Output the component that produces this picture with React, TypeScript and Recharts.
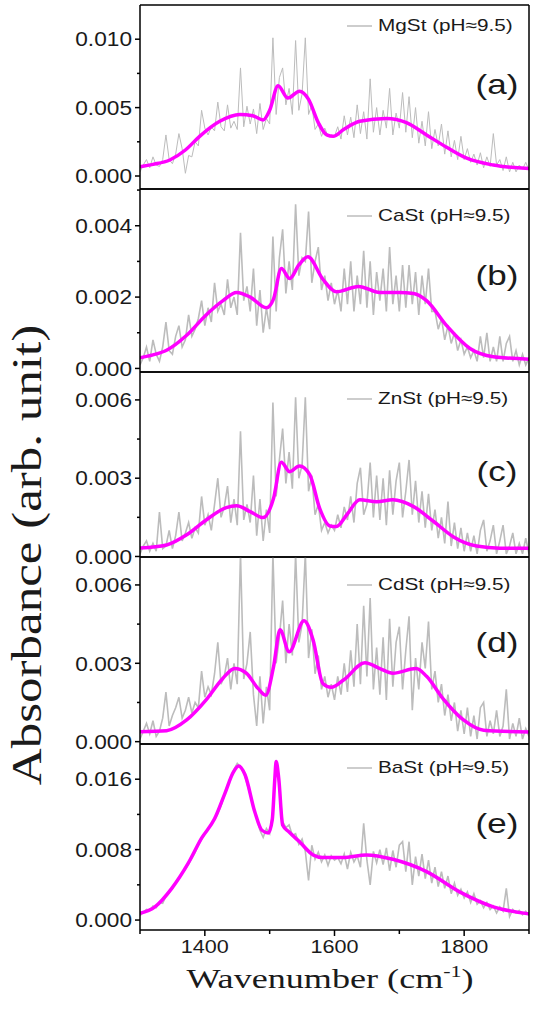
import React from 'react';
import { LineChart, Line, XAxis, YAxis, Legend } from 'recharts';

// wavenumber grid of the measured spectra (cm-1)
const wavenumbers = [
  1300, 1305, 1310, 1315, 1320, 1325, 1330, 1335, 1340, 1345,
  1350, 1355, 1360, 1365, 1370, 1375, 1380, 1385, 1390, 1395,
  1400, 1405, 1410, 1415, 1420, 1425, 1430, 1435, 1440, 1445,
  1450, 1455, 1460, 1465, 1470, 1475, 1480, 1485, 1490, 1495,
  1500, 1505, 1510, 1515, 1520, 1525, 1530, 1535, 1540, 1545,
  1550, 1555, 1560, 1565, 1570, 1575, 1580, 1585, 1590, 1595,
  1600, 1605, 1610, 1615, 1620, 1625, 1630, 1635, 1640, 1645,
  1650, 1655, 1660, 1665, 1670, 1675, 1680, 1685, 1690, 1695,
  1700, 1705, 1710, 1715, 1720, 1725, 1730, 1735, 1740, 1745,
  1750, 1755, 1760, 1765, 1770, 1775, 1780, 1785, 1790, 1795,
  1800, 1805, 1810, 1815, 1820, 1825, 1830, 1835, 1840, 1845,
  1850, 1855, 1860, 1865, 1870, 1875, 1880, 1885, 1890, 1895,
  1900,
];

const mgStRaw = [
  0.0003, 0.0008, 0.0012, 0.0006, 0.0014, 0.0008, 0.0007, 0.0012, 0.0030, 0.0012,
  0.0009, 0.0016, 0.0031, 0.0020, 0.0002, 0.0015, 0.0014, 0.0025, 0.0022, 0.0048,
  0.0035, 0.0030, 0.0036, 0.0033, 0.0054, 0.0036, 0.0033, 0.0052, 0.0035, 0.0040,
  0.0034, 0.0079, 0.0036, 0.0051, 0.0038, 0.0049, 0.0031, 0.0053, 0.0034, 0.0042,
  0.0038, 0.0101, 0.0045, 0.0072, 0.0079, 0.0052, 0.0064, 0.0045, 0.0099, 0.0048,
  0.0060, 0.0101, 0.0045, 0.0052, 0.0034, 0.0038, 0.0029, 0.0035, 0.0029, 0.0030,
  0.0029, 0.0036, 0.0027, 0.0044, 0.0030, 0.0043, 0.0028, 0.0052, 0.0031, 0.0047,
  0.0027, 0.0071, 0.0032, 0.0050, 0.0030, 0.0048, 0.0035, 0.0064, 0.0030, 0.0046,
  0.0035, 0.0061, 0.0032, 0.0058, 0.0028, 0.0050, 0.0024, 0.0040, 0.0022, 0.0047,
  0.0020, 0.0034, 0.0022, 0.0038, 0.0016, 0.0033, 0.0014, 0.0026, 0.0012, 0.0029,
  0.0012, 0.0020, 0.0010, 0.0016, 0.0008, 0.0017, 0.0006, 0.0014, 0.0007, 0.0031,
  0.0008, 0.0012, 0.0004, 0.0014, 0.0003, 0.0010, 0.0003, 0.0008, 0.0005, 0.0010,
  0.0004,
];

const caStRaw = [
  0.0001, 0.0003, 0.0006, 0.0002, 0.0008, 0.0004, 0.0002, 0.0006, 0.0013, 0.0005,
  0.0004, 0.0009, 0.0012, 0.0006, 0.0008, 0.0015, 0.0009, 0.0011, 0.0014, 0.0019,
  0.0012, 0.0017, 0.0013, 0.0024, 0.0016, 0.0018, 0.0015, 0.0025, 0.0017, 0.0020,
  0.0015, 0.0038, 0.0019, 0.0023, 0.0016, 0.0028, 0.0012, 0.0022, 0.0010, 0.0017,
  0.0011, 0.0037, 0.0016, 0.0031, 0.0039, 0.0021, 0.0030, 0.0022, 0.0046, 0.0026,
  0.0031, 0.0030, 0.0044, 0.0024, 0.0030, 0.0034, 0.0022, 0.0026, 0.0019, 0.0024,
  0.0018, 0.0022, 0.0016, 0.0028, 0.0018, 0.0030, 0.0016, 0.0026, 0.0018, 0.0033,
  0.0017, 0.0030, 0.0015, 0.0027, 0.0019, 0.0028, 0.0016, 0.0034, 0.0018, 0.0026,
  0.0016, 0.0029, 0.0017, 0.0029, 0.0018, 0.0027, 0.0015, 0.0026, 0.0018, 0.0028,
  0.0016, 0.0016, 0.0011, 0.0014, 0.0008, 0.0012, 0.0007, 0.0010, 0.0005, 0.0008,
  0.0004, 0.0006, 0.0003, 0.0005, 0.0002, 0.0009, 0.0003, 0.0010, 0.0002, 0.0006,
  0.0002, 0.0009, 0.0002, 0.0007, 0.0009, 0.0002, 0.0005, 0.0001, 0.0004, 0.0001,
  0.0003,
];

const znStRaw = [
  0.0001, 0.0004, 0.0006, 0.0002, 0.0005, 0.0002, 0.0017, 0.0003, 0.0004, 0.0010,
  0.0003, 0.0008, 0.0017, 0.0006, 0.0009, 0.0013, 0.0007, 0.0011, 0.0009, 0.0023,
  0.0012, 0.0016, 0.0010, 0.0020, 0.0030, 0.0015, 0.0019, 0.0027, 0.0013, 0.0022,
  0.0012, 0.0048, 0.0014, 0.0020, 0.0013, 0.0031, 0.0008, 0.0022, 0.0006, 0.0018,
  0.0009, 0.0059, 0.0023, 0.0037, 0.0049, 0.0028, 0.0040, 0.0026, 0.0061, 0.0030,
  0.0035, 0.0061, 0.0025, 0.0031, 0.0016, 0.0020, 0.0010, 0.0013, 0.0009, 0.0012,
  0.0010, 0.0016, 0.0011, 0.0019, 0.0014, 0.0023, 0.0013, 0.0028, 0.0034, 0.0016,
  0.0020, 0.0036, 0.0015, 0.0031, 0.0014, 0.0030, 0.0012, 0.0033, 0.0016, 0.0029,
  0.0036, 0.0015, 0.0025, 0.0037, 0.0016, 0.0029, 0.0013, 0.0025, 0.0011, 0.0024,
  0.0010, 0.0018, 0.0007, 0.0015, 0.0005, 0.0021, 0.0004, 0.0013, 0.0003, 0.0011,
  0.0002, 0.0009, 0.0002, 0.0008, 0.0001, 0.0010, 0.0014, 0.0002, 0.0006, 0.0012,
  0.0001, 0.0006, 0.0012, 0.0001, 0.0004, 0.0009, 0.0001, 0.0005, 0.0001, 0.0007,
  0.0001,
];

const cdStRaw = [
  0.0001, 0.0004, 0.0007, 0.0003, 0.0008, 0.0002, 0.0004, 0.0009, 0.0019, 0.0006,
  0.0010, 0.0013, 0.0017, 0.0009, 0.0012, 0.0017, 0.0011, 0.0015, 0.0013, 0.0027,
  0.0017, 0.0021, 0.0018, 0.0026, 0.0038, 0.0022, 0.0025, 0.0032, 0.0020, 0.0030,
  0.0022, 0.0072, 0.0024, 0.0030, 0.0042, 0.0018, 0.0006, 0.0025, 0.0007, 0.0021,
  0.0012, 0.0072, 0.0030, 0.0040, 0.0054, 0.0030, 0.0045, 0.0033, 0.0072, 0.0038,
  0.0045, 0.0072, 0.0032, 0.0043, 0.0026, 0.0033, 0.0020, 0.0025, 0.0017, 0.0022,
  0.0016, 0.0025, 0.0018, 0.0030, 0.0019, 0.0035, 0.0021, 0.0045, 0.0022, 0.0052,
  0.0025, 0.0055, 0.0020, 0.0036, 0.0018, 0.0040, 0.0016, 0.0047, 0.0021, 0.0038,
  0.0044, 0.0020, 0.0035, 0.0048, 0.0012, 0.0032, 0.0020, 0.0038, 0.0028, 0.0046,
  0.0020, 0.0027, 0.0015, 0.0022, 0.0010, 0.0018, 0.0008, 0.0015, 0.0004, 0.0012,
  0.0003, 0.0013, 0.0002, 0.0010, 0.0001, 0.0013, 0.0015, 0.0002, 0.0008, 0.0003,
  0.0012, 0.0002, 0.0006, 0.0020, 0.0001, 0.0007, 0.0002, 0.0009, 0.0001, 0.0005,
  0.0002,
];

const baStRaw = [
  0.0005, 0.0009, 0.0012, 0.0011, 0.0016, 0.0014, 0.0020, 0.0019, 0.0027, 0.0031,
  0.0036, 0.0043, 0.0047, 0.0053, 0.0058, 0.0064, 0.0070, 0.0077, 0.0085, 0.0092,
  0.0098, 0.0103, 0.0110, 0.0114, 0.0121, 0.0130, 0.0141, 0.0152, 0.0163, 0.0171,
  0.0178, 0.0174, 0.0168, 0.0155, 0.0142, 0.0128, 0.0116, 0.0102, 0.0094, 0.0104,
  0.0098, 0.0125, 0.0181, 0.0150, 0.0112, 0.0105, 0.0108, 0.0096, 0.0098, 0.0086,
  0.0092, 0.0078, 0.0045, 0.0085, 0.0069, 0.0077, 0.0066, 0.0074, 0.0062, 0.0073,
  0.0068, 0.0071, 0.0064, 0.0075, 0.0058, 0.0077, 0.0066, 0.0073, 0.0060, 0.0110,
  0.0068, 0.0040, 0.0078, 0.0065, 0.0080, 0.0063, 0.0082, 0.0056, 0.0079, 0.0060,
  0.0085, 0.0089, 0.0055, 0.0089, 0.0040, 0.0072, 0.0050, 0.0075, 0.0047, 0.0068,
  0.0042, 0.0060, 0.0038, 0.0055, 0.0036, 0.0050, 0.0030, 0.0042, 0.0028, 0.0035,
  0.0025, 0.0032, 0.0020, 0.0030, 0.0018, 0.0022, 0.0014, 0.0020, 0.0012, 0.0016,
  0.0008, 0.0015, 0.0010, 0.0036, 0.0004, 0.0012, 0.0008, 0.0011, 0.0006, 0.0010,
  0.0005,
];

// smoothed fits, [wavenumber, absorbance]
const mgStFit = [
  [1300, 0.00068], [1320, 0.00085], [1346, 0.00117], [1370, 0.0019], [1392, 0.0029],
  [1423, 0.004], [1454, 0.0045], [1474, 0.0044], [1490, 0.0041], [1500, 0.0048],
  [1513, 0.0066], [1528, 0.0057], [1546, 0.0062], [1560, 0.0056], [1575, 0.0039],
  [1588, 0.003], [1598, 0.0029], [1614, 0.0034], [1639, 0.004], [1680, 0.0042],
  [1711, 0.0039], [1742, 0.003], [1773, 0.0021], [1804, 0.0013], [1845, 0.0008],
  [1900, 0.00055],
];

const caStFit = [
  [1300, 0.0003], [1320, 0.00038], [1341, 0.00051], [1372, 0.00093], [1402, 0.0015],
  [1428, 0.0019], [1449, 0.00213], [1470, 0.002], [1495, 0.0017], [1506, 0.00195],
  [1518, 0.0028], [1531, 0.00252], [1545, 0.0029], [1559, 0.00313], [1582, 0.0025],
  [1603, 0.00215], [1637, 0.0023], [1670, 0.00213], [1700, 0.00213], [1722, 0.0021],
  [1742, 0.0019], [1773, 0.0012], [1809, 0.00056], [1845, 0.00033], [1900, 0.00026],
];

const znStFit = [
  [1300, 0.00032], [1341, 0.00044], [1372, 0.00083], [1402, 0.0014], [1433, 0.00187],
  [1449, 0.00194], [1470, 0.00172], [1490, 0.00149], [1506, 0.00223], [1518, 0.00361],
  [1531, 0.00325], [1546, 0.00347], [1562, 0.00313], [1577, 0.00185], [1593, 0.00117],
  [1603, 0.00115], [1619, 0.0016], [1639, 0.00217], [1665, 0.0021], [1690, 0.00217],
  [1722, 0.00191], [1753, 0.00134], [1783, 0.00076], [1819, 0.0004], [1855, 0.00032],
  [1900, 0.00032],
];

const cdStFit = [
  [1300, 0.00038], [1341, 0.00042], [1372, 0.00083], [1402, 0.0016], [1428, 0.00243],
  [1446, 0.0028], [1464, 0.00262], [1482, 0.00204], [1494, 0.00178], [1506, 0.00287],
  [1516, 0.00428], [1530, 0.00344], [1553, 0.00463], [1567, 0.00389], [1582, 0.00223],
  [1595, 0.00208], [1614, 0.00236], [1647, 0.00302], [1670, 0.0028], [1690, 0.00262],
  [1726, 0.0028], [1742, 0.0025], [1767, 0.00166], [1799, 0.00083], [1830, 0.00044],
  [1900, 0.00037],
];

const baStFit = [
  [1300, 0.00076], [1323, 0.0015], [1349, 0.0036], [1374, 0.0064], [1395, 0.0093],
  [1415, 0.0115], [1431, 0.0144], [1444, 0.0168], [1452, 0.0175], [1462, 0.0165],
  [1477, 0.0123], [1488, 0.0102], [1498, 0.0099], [1504, 0.0114], [1508, 0.0161],
  [1510, 0.018], [1514, 0.0161], [1520, 0.0108], [1530, 0.01], [1546, 0.0089],
  [1567, 0.0074], [1582, 0.0071], [1613, 0.0071], [1649, 0.0074], [1690, 0.0069],
  [1742, 0.0055], [1793, 0.0032], [1845, 0.0015], [1900, 0.0007],
];

const sampleNames = ['MgSt (pH≈9.5)', 'CaSt (pH≈9.5)', 'ZnSt (pH≈9.5)', 'CdSt (pH≈9.5)', 'BaSt (pH≈9.5)'];
const panelLetters = ['(a)', '(b)', '(c)', '(d)', '(e)'];

const xTicks = [1300, 1400, 1500, 1600, 1700, 1800, 1900];
const xLabelled = [1400, 1600, 1800];

const yMajorA = [0, 0.005, 0.01];
const yMinorA = [0.0025, 0.0075];
const yMajorB = [0, 0.002, 0.004];
const yMinorB = [0.001, 0.003, 0.005];
const yMajorCD = [0, 0.003, 0.006];
const yMinorCD = [0.0015, 0.0045];
const yMajorE = [0, 0.008, 0.016];
const yMinorE = [0.004, 0.012];

const SANS = '"Liberation Sans", Arial, sans-serif';
const SERIF = '"Liberation Serif", "Times New Roman", serif';

const panels = [
  { raw: mgStRaw, fit: mgStFit, domain: [-0.00095, 0.0125], major: yMajorA, minor: yMinorA, top: 5, height: 184, grey: 1, legendY: 21, labelY: 80 },
  { raw: caStRaw, fit: caStFit, domain: [-0.0001, 0.00503], major: yMajorB, minor: yMinorB, top: 189, height: 183, grey: 1.6, legendY: 27, labelY: 87 },
  { raw: znStRaw, fit: znStFit, domain: [-0.00002, 0.00707], major: yMajorCD, minor: yMinorCD, top: 372, height: 185, grey: 1.6, legendY: 27, labelY: 100 },
  { raw: cdStRaw, fit: cdStFit, domain: [-0.00009, 0.00707], major: yMajorCD, minor: yMinorCD, top: 557, height: 187, grey: 1.6, legendY: 28, labelY: 86 },
  { raw: baStRaw, fit: baStFit, domain: [-0.00113, 0.02], major: yMajorE, minor: yMinorE, top: 744, height: 186, grey: 1.6, legendY: 24, labelY: 80 },
];

const YTick = (props: any) => {
  const { x, y, payload, major } = props;
  const isMajor = major.includes(payload.value);
  const len = isMajor ? 5 : 3;
  return (
    <g>
      <line x1={x - len} x2={x} y1={y} y2={y} stroke="#000" strokeWidth={1.5} />
      {isMajor && (
        <text
          transform={`translate(${x - 8},${y}) scale(1.08,1)`}
          textAnchor="end"
          dominantBaseline="central"
          fontSize={21}
          fontFamily={SANS}
          fill="#1a1a1a"
        >
          {payload.value.toFixed(3)}
        </text>
      )}
    </g>
  );
};

// ticks hanging down from a border; the bottom panel also gets labels
const XTick = (props: any) => {
  const { x, y, payload, labels, show } = props;
  if (!show) return <g />;
  const isMajor = xLabelled.includes(payload.value);
  const len = isMajor ? 6 : 4;
  return (
    <g>
      <line x1={x} x2={x} y1={y} y2={y + len} stroke="#000" strokeWidth={1.5} />
      {labels && isMajor && (
        <text
          transform={`translate(${x},${y + 17}) scale(1.2,1)`}
          textAnchor="middle"
          dominantBaseline="central"
          fontSize={18}
          fontFamily={SANS}
          fill="#1a1a1a"
        >
          {payload.value}
        </text>
      )}
    </g>
  );
};

const LegendRow = (props: any) => {
  const item = (props.payload || []).find((e: any) => e.type !== 'none');
  if (!item) return null;
  return (
    <div style={{ display: 'flex', alignItems: 'center', height: 20 }}>
      <svg width={25} height={20}>
        <line x1={0} x2={25} y1={10} y2={10} stroke={item.color} strokeWidth={1.5} />
      </svg>
      <span
        style={{
          marginLeft: 6,
          fontFamily: SANS,
          fontSize: 17,
          color: '#1a1a1a',
          display: 'inline-block',
          whiteSpace: 'nowrap',
          transform: 'scaleX(1.22)',
          transformOrigin: 'left center',
        }}
      >
        {item.value}
      </span>
    </div>
  );
};

const Panel = ({ p, index }: { p: any; index: number }) => {
  const last = index === panels.length - 1;
  const rawData = p.raw.map((v: number, i: number) => ({ w: wavenumbers[i], v }));
  const fitData = p.fit.map(([w, v]: number[]) => ({ w, v }));
  const padT = 12;
  const padB = last ? 62 : 12;
  const chartHeight = p.height + padT + padB;
  const frame = { stroke: '#000', strokeWidth: 1.5 };

  return (
    <div style={{ position: 'absolute', left: 0, top: p.top - padT, width: 533, height: chartHeight }}>
      <LineChart width={533} height={chartHeight} margin={{ top: padT - 1, right: 3, bottom: padB - 1, left: 0 }}>
        <XAxis
          xAxisId="bottom"
          dataKey="w"
          type="number"
          domain={[1300, 1900]}
          allowDataOverflow
          ticks={xTicks}
          interval={0}
          height={1}
          tickSize={0}
          tickMargin={0}
          axisLine={frame}
          tick={(t: any) => <XTick {...t} show={last} labels={last} />}
        />
        <XAxis
          xAxisId="top"
          orientation="top"
          type="number"
          domain={[1300, 1900]}
          allowDataOverflow
          ticks={xTicks}
          interval={0}
          height={1}
          tickSize={0}
          tickMargin={0}
          axisLine={frame}
          tick={(t: any) => <XTick {...t} show={index > 0} labels={false} />}
        />
        <YAxis
          yAxisId="left"
          type="number"
          domain={p.domain}
          allowDataOverflow
          ticks={[...p.major, ...p.minor].sort((a, b) => a - b)}
          interval={0}
          width={140}
          tickSize={0}
          tickMargin={0}
          axisLine={frame}
          tick={(t: any) => <YTick {...t} major={p.major} />}
        />
        <YAxis
          yAxisId="right"
          orientation="right"
          type="number"
          domain={p.domain}
          allowDataOverflow
          width={1}
          tick={false}
          tickLine={false}
          axisLine={frame}
        />
        <Legend
          layout="horizontal"
          verticalAlign="middle"
          align="center"
          wrapperStyle={{ left: 347, top: p.legendY + padT - 10, width: 'auto', height: 20 }}
          content={(lp: any) => <LegendRow {...lp} />}
        />
        <Line
          xAxisId="bottom"
          yAxisId="left"
          data={rawData}
          dataKey="v"
          name={sampleNames[index]}
          type="linear"
          stroke="#bcbcbc"
          strokeWidth={p.grey}
          dot={false}
          activeDot={false}
          legendType="plainline"
          isAnimationActive={false}
        />
        <Line
          xAxisId="bottom"
          yAxisId="left"
          data={fitData}
          dataKey="v"
          name="fit"
          type="monotone"
          stroke="#ff00ff"
          strokeWidth={3.5}
          dot={false}
          activeDot={false}
          legendType="none"
          isAnimationActive={false}
        />
      </LineChart>
      <div
        style={{
          position: 'absolute',
          left: 497,
          top: p.labelY + padT,
          transform: 'translate(-50%, -50%) scaleX(1.25)',
          fontFamily: SANS,
          fontSize: 28,
          color: '#1a1a1a',
          whiteSpace: 'nowrap',
          lineHeight: 1,
        }}
      >
        {panelLetters[index]}
      </div>
    </div>
  );
};

export default function App() {
  return (
    <div style={{ position: 'absolute', left: 0, top: 0, width: 533, height: 1012, background: '#fff' }}>
      {panels.map((p, i) => (
        <Panel key={i} p={p} index={i} />
      ))}
      <div
        style={{
          position: 'absolute',
          left: 27,
          top: 555,
          transform: 'translate(-50%, -50%) rotate(-90deg) scale(1.5, 1.25)',
          fontFamily: SERIF,
          fontSize: 34,
          color: '#1a1a1a',
          whiteSpace: 'nowrap',
          lineHeight: 1,
        }}
      >
        Absorbance (arb. unit)
      </div>
      <div
        style={{
          position: 'absolute',
          left: 330,
          top: 978,
          transform: 'translate(-50%, -50%) scaleX(1.29)',
          fontFamily: SERIF,
          fontSize: 28,
          color: '#1a1a1a',
          whiteSpace: 'nowrap',
          lineHeight: 1,
        }}
      >
        Wavenumber (cm<sup style={{ fontSize: 17 }}>-1</sup>)
      </div>
    </div>
  );
}
